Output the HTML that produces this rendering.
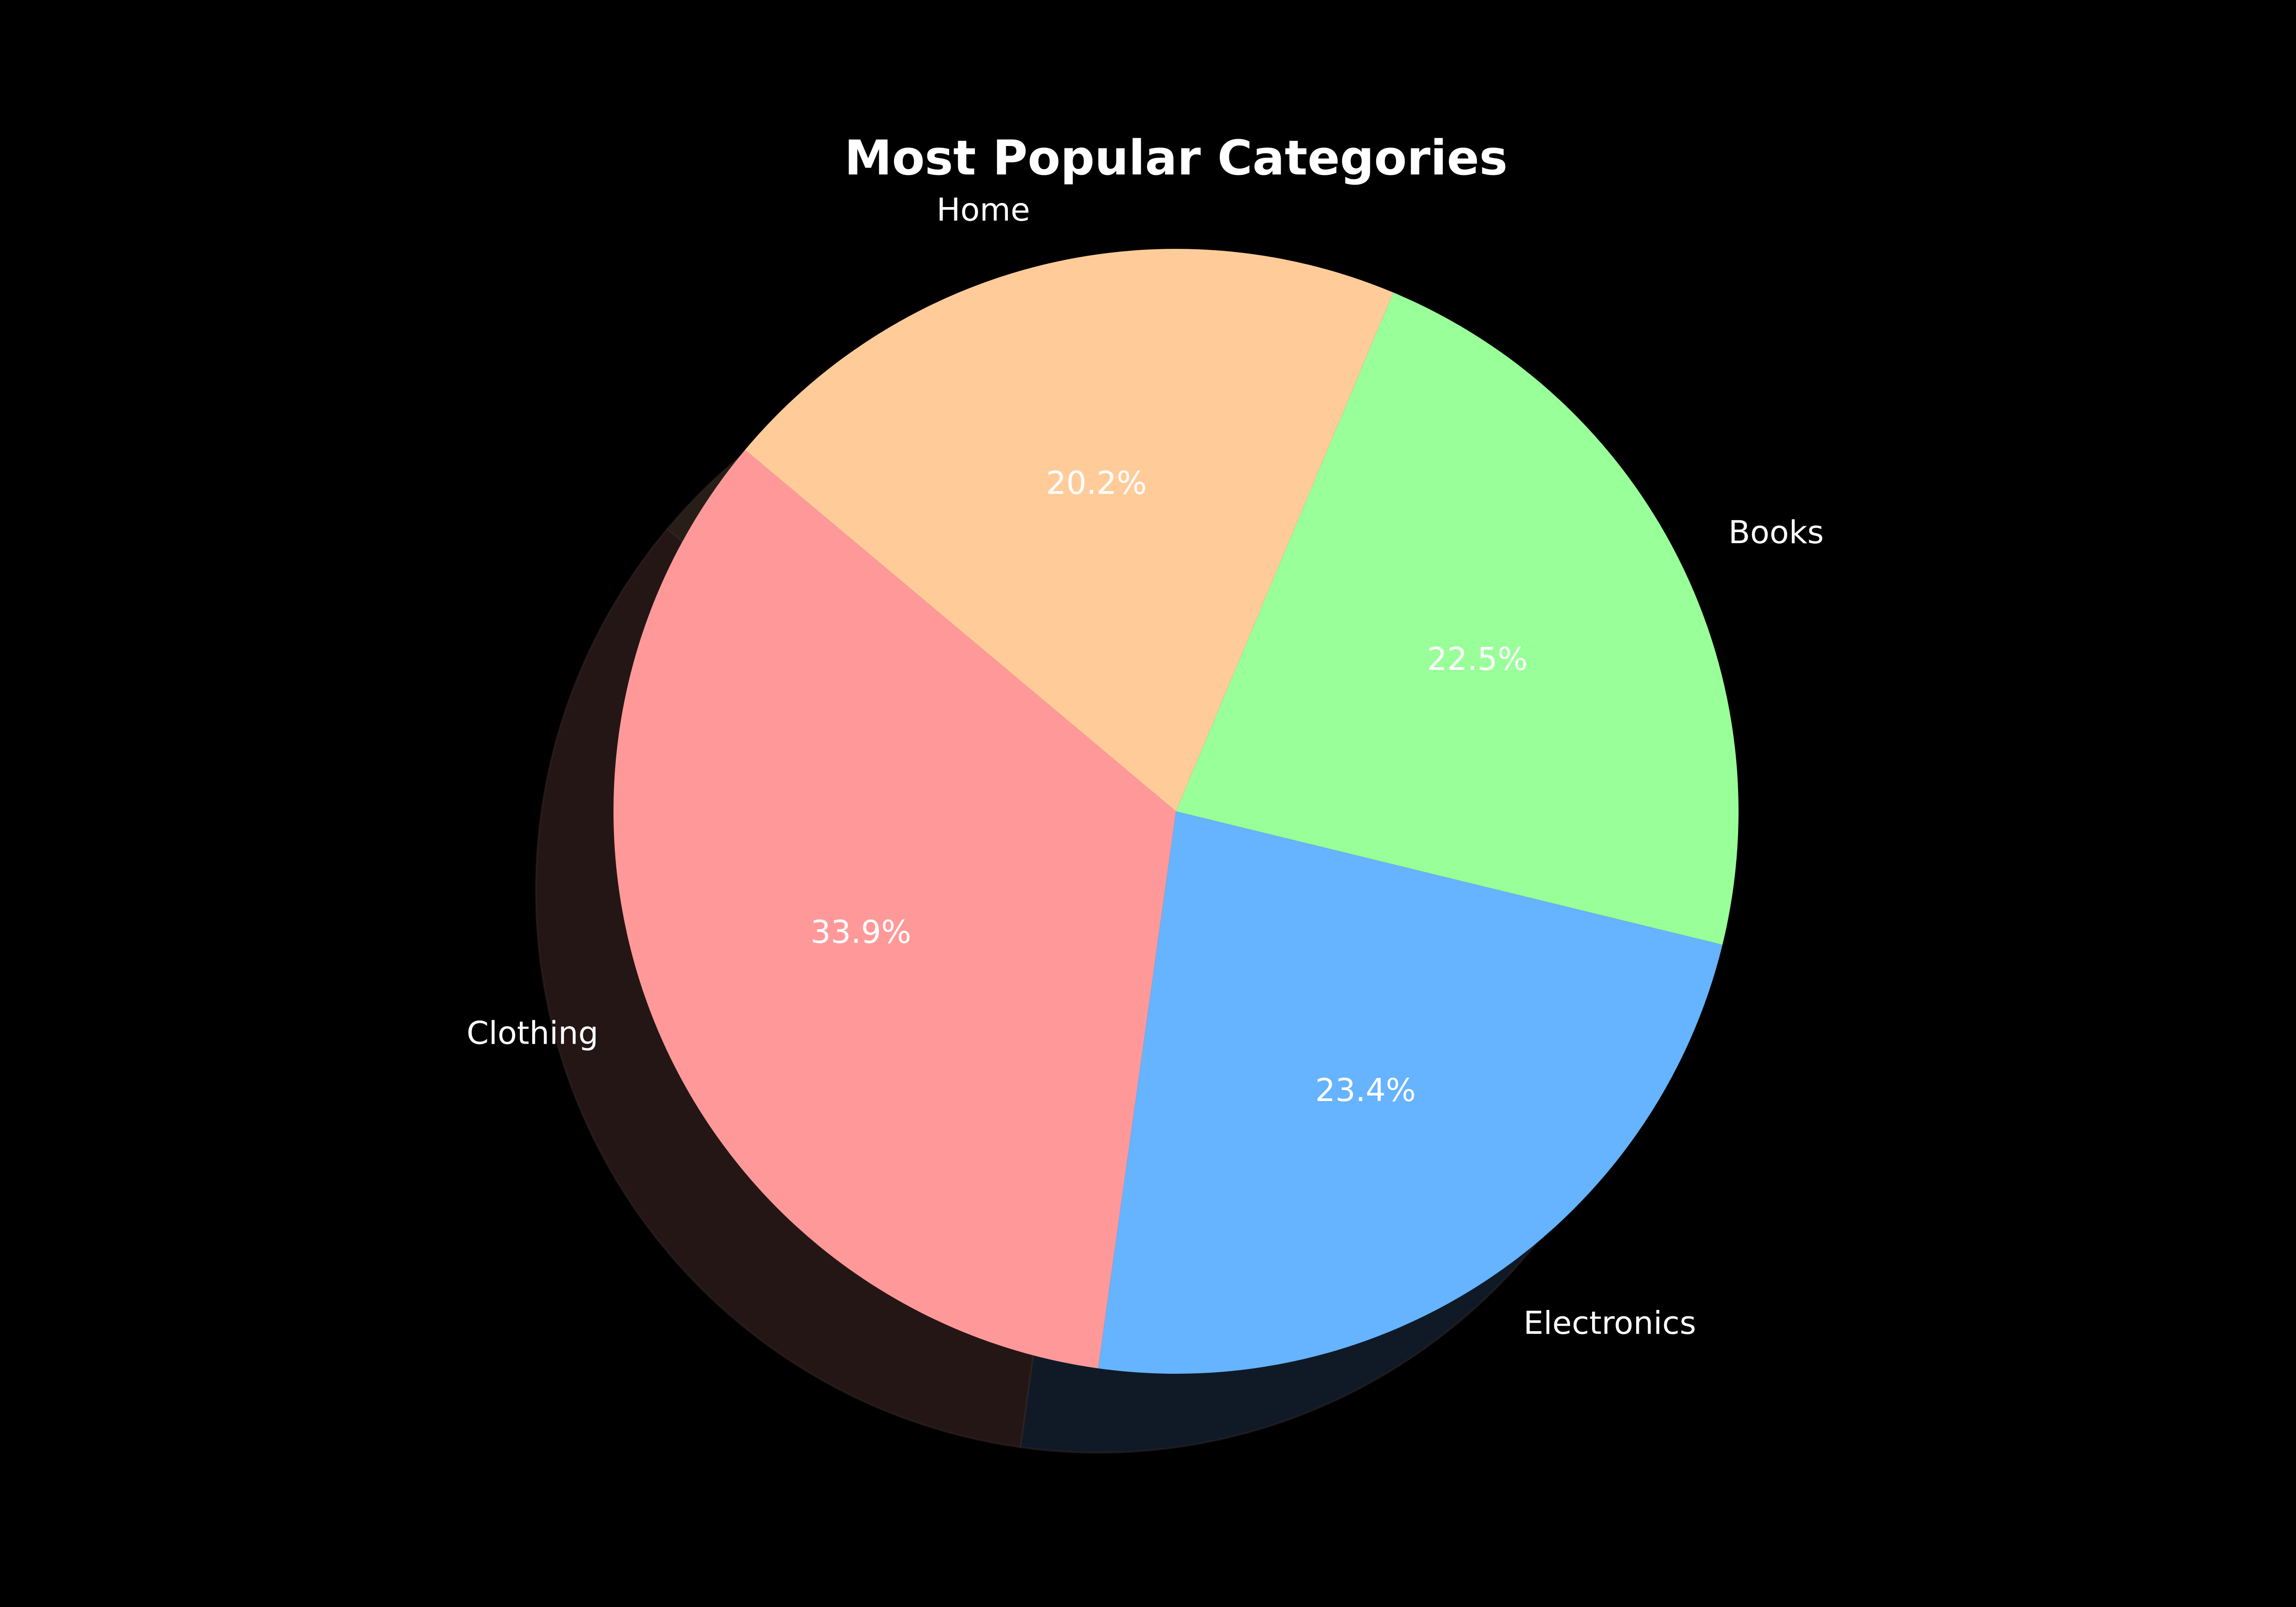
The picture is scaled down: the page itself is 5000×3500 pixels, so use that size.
<!DOCTYPE html>
<html><head><meta charset="utf-8"><style>
html,body{margin:0;padding:0;background:#000;}
svg{display:block;}
text{font-family:"DejaVu Sans","Liberation Sans",sans-serif;fill:#fff;}
</style></head><body>
<svg id="chart" width="5000" height="3500" viewBox="0 0 5000 3500" xmlns="http://www.w3.org/2000/svg">
<rect width="5000" height="3500" fill="#000"/>
<text x="2561" y="344" font-size="104" font-weight="bold" text-anchor="middle" dominant-baseline="central">Most Popular Categories</text>
<g id="shadows"></g>
<g id="slices"></g>
<g id="labels"></g>
</svg>
<script>
const categories = ["Clothing", "Electronics", "Books", "Home"];
const values = [33.9, 23.4, 22.5, 20.2];
const pctLabels = ["33.9%", "23.4%", "22.5%", "20.2%"];
const colors = ["#ff9999", "#66b3ff", "#99ff99", "#ffcc99"];
const shadowColors = ["#251616", "#0f1a26", "#172617", "#261e17"];

const cx = 2561, cy = 1767, r = 1225, startAngle = 140;
const sdx = -169, sdy = 172;
const NS = "http://www.w3.org/2000/svg";
const total = values.reduce((a, b) => a + b, 0);

function pt(ox, oy, rad, deg) {
  const a = deg * Math.PI / 180;
  return [ox + rad * Math.cos(a), oy - rad * Math.sin(a)];
}
function arcPath(ox, oy, a0, a1) {
  const p0 = pt(ox, oy, r, a0), p1 = pt(ox, oy, r, a1);
  const large = (a1 - a0) > 180 ? 1 : 0;
  return `M${ox},${oy} L${p0[0]},${p0[1]} A${r},${r} 0 ${large} 0 ${p1[0]},${p1[1]} Z`;
}
const shadowG = document.getElementById('shadows');
const sliceG = document.getElementById('slices');
const labelG = document.getElementById('labels');
let a = startAngle;
values.forEach((v, i) => {
  const span = v / total * 360;
  const a0 = a, a1 = a + span, mid = (a0 + a1) / 2;
  const sh = document.createElementNS(NS, 'path');
  sh.setAttribute('d', arcPath(cx + sdx, cy + sdy, a0, a1));
  sh.setAttribute('fill', shadowColors[i]);
  sh.setAttribute('stroke', '#3a2a2a');
  sh.setAttribute('stroke-opacity', '0.4');
  sh.setAttribute('stroke-width', '4');
  
  
  shadowG.appendChild(sh);

  const p = document.createElementNS(NS, 'path');
  p.setAttribute('d', arcPath(cx, cy, a0, a1));
  p.setAttribute('fill', colors[i]);
  
  
  sliceG.appendChild(p);

  const lp = pt(cx, cy, r * 1.1, mid);
  const t = document.createElementNS(NS, 'text');
  t.setAttribute('x', lp[0]);
  t.setAttribute('y', lp[1]);
  t.setAttribute('font-size', '69');
  t.setAttribute('text-anchor', lp[0] < cx ? 'end' : 'start');
  t.setAttribute('dominant-baseline', 'central');
  t.textContent = categories[i];
  
  
  labelG.appendChild(t);

  const pp = pt(cx, cy, r * 0.6, mid);
  const t2 = document.createElementNS(NS, 'text');
  t2.setAttribute('x', pp[0]);
  t2.setAttribute('y', pp[1]);
  t2.setAttribute('font-size', '69');
  t2.setAttribute('text-anchor', 'middle');
  t2.setAttribute('dominant-baseline', 'central');
  t2.textContent = pctLabels[i];
  
  
  labelG.appendChild(t2);
  a = a1;
});
</script>
</body></html>
